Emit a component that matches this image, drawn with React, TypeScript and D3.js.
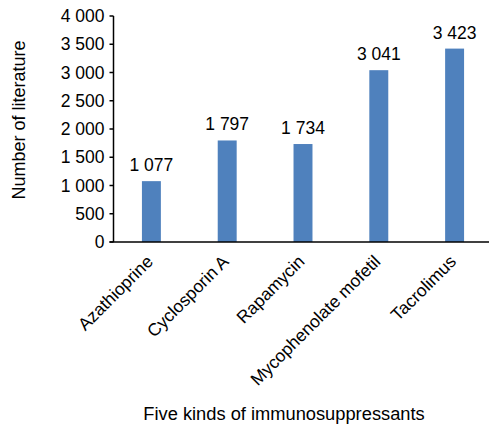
import React from "react";
import * as d3 from "d3";

const categories = ["Azathioprine", "Cyclosporin A", "Rapamycin", "Mycophenolate mofetil", "Tacrolimus"];
const counts = [1077, 1797, 1734, 3041, 3423];
const yTicks = [0, 500, 1000, 1500, 2000, 2500, 3000, 3500, 4000];

const W = 489;
const H = 428;
const left = 113.5;
const right = 492.5;
const top = 16;
const bottom = 242;
const FONT = "'Liberation Sans', Arial, sans-serif";

// Thousands separated by a space: 1 077, 3 500 ...
const fmt = (v: number) => d3.format(",")(v).replace(/,/g, " ");

export default function App() {
  const x = d3
    .scaleBand<string>()
    .domain(categories)
    .range([left, right])
    .paddingInner(0.75)
    .paddingOuter(0.375);
  const y = d3.scaleLinear().domain([0, 4000]).range([bottom, top]);

  return (
    <svg
      width={W}
      height={H}
      style={{ position: "absolute", left: 0, top: 0, background: "#fff" }}
      fontFamily={FONT}
    >
      {/* bars */}
      {categories.map((c, i) => (
        <rect
          key={c}
          x={x(c)}
          y={y(counts[i])}
          width={x.bandwidth()}
          height={y(0) - y(counts[i])}
          fill="#4f81bd"
        />
      ))}
      {/* value labels */}
      {categories.map((c, i) => (
        <text
          key={c}
          x={(x(c) as number) + x.bandwidth() / 2}
          y={y(counts[i]) - 10}
          textAnchor="middle"
          fontSize={17.5}
          fill="#000"
        >
          {fmt(counts[i])}
        </text>
      ))}
      {/* y axis */}
      <line x1={left} x2={left} y1={top} y2={bottom} stroke="#000" strokeWidth={1.5} />
      {yTicks.map((t) => (
        <g key={t}>
          <line x1={left - 4} x2={left} y1={y(t)} y2={y(t)} stroke="#000" strokeWidth={1.5} />
          <text x={left - 9} y={y(t)} dy="0.35em" textAnchor="end" fontSize={17.5} fill="#000">
            {fmt(t)}
          </text>
        </g>
      ))}
      {/* x axis */}
      <line x1={left - 4} x2={W} y1={bottom} y2={bottom} stroke="#000" strokeWidth={1.5} />
      {categories.map((c) => {
        const cx = (x(c) as number) + x.bandwidth() / 2;
        return (
          <text
            key={c}
            transform={`translate(${cx - 6},${bottom + 12}) rotate(-45)`}
            textAnchor="end"
            dy="0.7em"
            fontSize={17.5}
            fill="#000"
          >
            {c}
          </text>
        );
      })}
      {/* axis titles */}
      <text
        transform={`translate(25,120) rotate(-90)`}
        textAnchor="middle"
        fontSize={18}
        fill="#000"
      >
        Number of literature
      </text>
      <text x={284} y={420} textAnchor="middle" fontSize={18.3} fill="#000">
        Five kinds of immunosuppressants
      </text>
    </svg>
  );
}
